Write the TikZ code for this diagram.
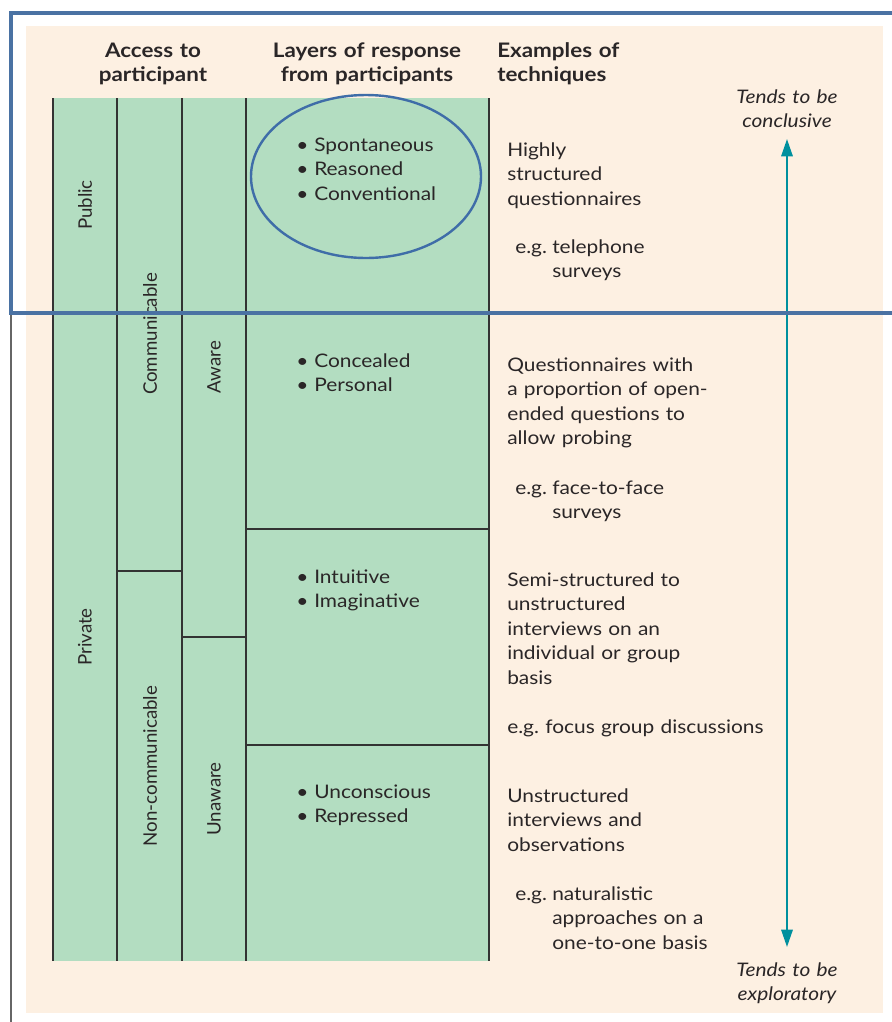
\documentclass[tikz,border=0pt]{standalone}
\usepackage{fontspec}
\setmainfont{Lato}[FakeStretch=1.12]
\newfontfamily\narrowfont{Lato}
\usetikzlibrary{arrows.meta}
\definecolor{paper}{HTML}{FDF0E2}
\definecolor{sage}{HTML}{B3DDC1}
\definecolor{ink}{HTML}{2A2627}
\definecolor{rulegray}{HTML}{333333}
\definecolor{frameblue}{HTML}{4A72A3}
\definecolor{ringblue}{HTML}{3F6DA8}
\definecolor{teal}{HTML}{00909E}
\frenchspacing
\begin{document}
\begin{tikzpicture}[x=0.75pt,y=-0.75pt,
  rule/.style={draw=rulegray,line width=1.1pt},
  body/.style={font=\fontsize{14}{18.4}\selectfont,text=ink,inner sep=0pt,anchor=base west,text width=7cm,align=left},
  head/.style={font=\bfseries\fontsize{15}{18.4}\selectfont,text=ink,inner sep=0pt,anchor=base,text width=6cm,align=center},
  headleft/.style={head,anchor=base west,align=left},
  side/.style={font=\narrowfont\fontsize{14}{18.4}\selectfont,text=ink,inner sep=0pt,rotate=90},
  trend/.style={font=\itshape\fontsize{14}{18.4}\selectfont,text=ink,inner sep=0pt,anchor=base,text width=4cm,align=center},
  dot/.style={body,text width=1cm}]
\useasboundingbox (0,0) rectangle (892,1022);
% background panel and table body
\fill[paper] (26,26) rectangle (883,1013);
\fill[sage] (53,98) rectangle (489,961);
% table rules
\foreach \x in {53,117,182,246,489} \draw[rule] (\x,98) -- (\x,961);
\draw[rule] (117,571) -- (182,571);
\draw[rule] (182,637) -- (246,637);
\draw[rule] (246,529) -- (489,529);
\draw[rule] (246,745) -- (489,745);

% column headings
\node[head] (hAccess) at (153,57) {Access to\\participant};
\node[head] (hLayers) at (367,57) {Layers of response\\from participants};
\node[headleft] (hExamples) at (497,57) {Examples of\\techniques};

% access categories
\node[side] (public) at (85,205) {Public};
\node[side] (private) at (85,637) {Private};
\node[side] (communicable) at (150,334) {Communicable};
\node[side] (noncomm) at (150,766) {Non-communicable};
\node[side] (aware) at (214,367) {Aware};
\node[side] (unaware) at (214,799) {Unaware};

% layers of response
\node[dot] (b1) at (296,151) {•\\•\\•};
\node[body] (l1) at (314,151) {Spontaneous\\Reasoned\\Conventional};
\node[dot] (b2) at (296,367) {•\\•};
\node[body] (l2) at (314,367) {Concealed\\Personal};
\node[dot] (b3) at (296,583) {•\\•};
\node[body] (l3) at (314,583) {Intuitive\\Imaginative};
\node[dot] (b4) at (296,798) {•\\•};
\node[body] (l4) at (314,798) {Unconscious\\Repressed};

% example techniques
\node[body] (t1) at (507,156) {Highly\\structured\\questionnaires};
\node[body] (eg1) at (515,253) {e.g.};
\node[body] (x1) at (552,253) {telephone\\surveys};
\node[body] (t2) at (507,371) {Questionnaires with\\a proportion of open-\\ended questions to\\allow probing};
\node[body] (eg2) at (515,494) {e.g.};
\node[body] (x2) at (552,494) {face-to-face\\surveys};
\node[body] (t3) at (507,586) {Semi-structured to\\unstructured\\interviews on an\\individual or group\\basis};
\node[body] (x3) at (507,733) {e.g. focus group discussions};
\node[body] (t4) at (507,802) {Unstructured\\interviews and\\observations};
\node[body] (eg4) at (515,900) {e.g.};
\node[body] (x4) at (552,900) {naturalistic\\approaches on a\\one-to-one basis};

% continuum arrow
\node[trend] (conclusive) at (787,103) {Tends to be\\conclusive};
\node[trend] (exploratory) at (787,976) {Tends to be\\exploratory};
\coordinate (arrTop) at (787,139);
\coordinate (arrBot) at (787,947);
\draw[teal,line width=1.6pt,{Triangle[length=13pt,width=8.5pt]}-{Triangle[length=13pt,width=8.5pt]}] (arrTop) -- (arrBot);

% highlight ring and frame
\draw[ringblue,line width=1.8pt] (366,176.5) ellipse [x radius=115,y radius=81.5];
\draw[gray!80!black,line width=0.8pt] (11,313) -- (11,1022);
\draw[frameblue,line width=2.6pt] (892,13) -- (11,13) -- (11,313) -- (892,313);
\end{tikzpicture}
\end{document}
